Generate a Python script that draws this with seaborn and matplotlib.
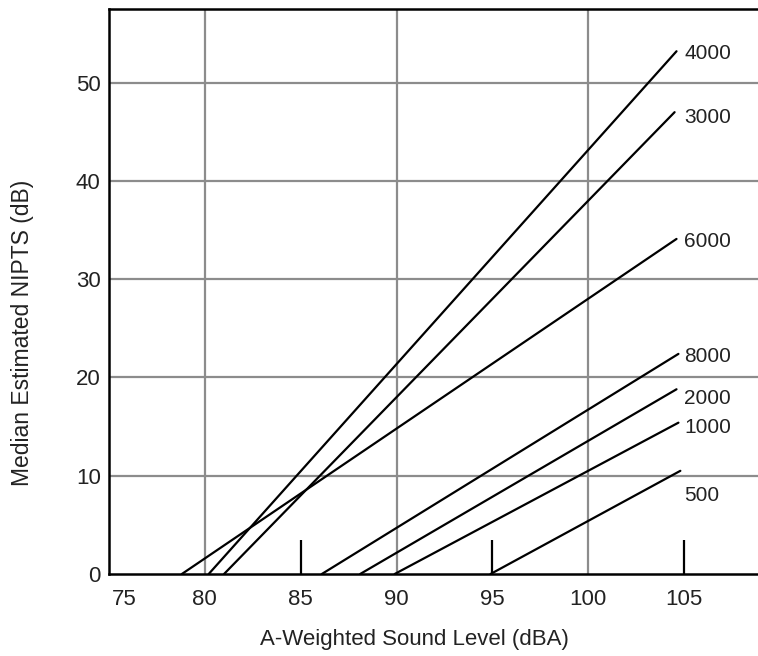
import matplotlib
matplotlib.use("Agg")
import matplotlib.pyplot as plt
import matplotlib.transforms as mtransforms
import numpy as np
import pandas as pd
import seaborn as sns

# Audiometric test frequencies (Hz) and their NIPTS growth lines
freqs = ["4000", "3000", "6000", "8000", "2000", "1000", "500"]
onset_dba = [80.2, 81.0, 78.8, 86.1, 88.1, 89.9, 94.9]     # level where NIPTS starts (0 dB)
end_dba = [104.6, 104.5, 104.6, 104.7, 104.6, 104.7, 104.8]
end_nipts = [53.2, 47.0, 34.1, 22.4, 18.8, 15.4, 10.5]
label_y = [53.0, 46.5, 33.8, 22.1, 17.9, 14.9, 8.0]

x_ticks = [75, 80, 85, 90, 95, 100, 105]
y_ticks = [0, 10, 20, 30, 40, 50]
x_grid = [80, 90, 100]
y_grid = [10, 20, 30, 40, 50]
short_marks = [85, 95, 105]

rows = []
for f, x0, x1, y1 in zip(freqs, onset_dba, end_dba, end_nipts):
    rows.append({"freq": f, "dBA": x0, "NIPTS": 0.0})
    rows.append({"freq": f, "dBA": x1, "NIPTS": y1})
df = pd.DataFrame(rows)

sns.set_theme(style="white")
plt.rcParams["font.family"] = ["Liberation Sans", "DejaVu Sans"]

fig = plt.figure(figsize=(7.58, 6.56), dpi=100)
ax = fig.add_axes([109 / 758, 1 - 574 / 656, 1 - 109 / 758, (574 - 9) / 656])

grid_kw = dict(color="#8c8c8c", lw=1.6, zorder=1)
for gx in x_grid:
    ax.axvline(gx, **grid_kw)
for gy in y_grid:
    ax.axhline(gy, **grid_kw)
ax.vlines(short_marks, 0, 3.5, color="black", lw=1.6, zorder=2)

sns.lineplot(data=df, x="dBA", y="NIPTS", units="freq", estimator=None,
             color="black", lw=1.6, ax=ax, legend=False, zorder=3)

for f, ly in zip(freqs, label_y):
    ax.text(105.0, ly, f, fontsize=15, va="center", ha="left", color="#222222")

ax.set_xlim(75.05, 108.85)
ax.set_ylim(0, 57.5)
ax.set_xticks(x_ticks)
ax.set_yticks(y_ticks)
ax.tick_params(axis="both", length=0, labelsize=16, colors="#222222")
ax.tick_params(axis="x", pad=11)
ax.tick_params(axis="y", pad=6)

# first x label sits just inside the corner
first = ax.get_xticklabels()[0]
first.set_ha("left")
first.set_transform(first.get_transform() + mtransforms.ScaledTranslation(3 / 100, 0, fig.dpi_scale_trans))

ax.set_xlabel("A-Weighted Sound Level (dBA)", fontsize=16, color="#222222", va="center")
ax.set_ylabel("Median Estimated NIPTS (dB)", fontsize=16.5, color="#222222", va="center")
ax.xaxis.set_label_coords(0.47, -0.116)
ax.yaxis.set_label_coords(-0.134, 0.4265)

for side in ["left", "bottom", "top"]:
    ax.spines[side].set_visible(True)
    ax.spines[side].set_color("black")
    ax.spines[side].set_linewidth(1.8)
ax.spines["right"].set_visible(False)

fig.savefig("out.png", dpi=100)
